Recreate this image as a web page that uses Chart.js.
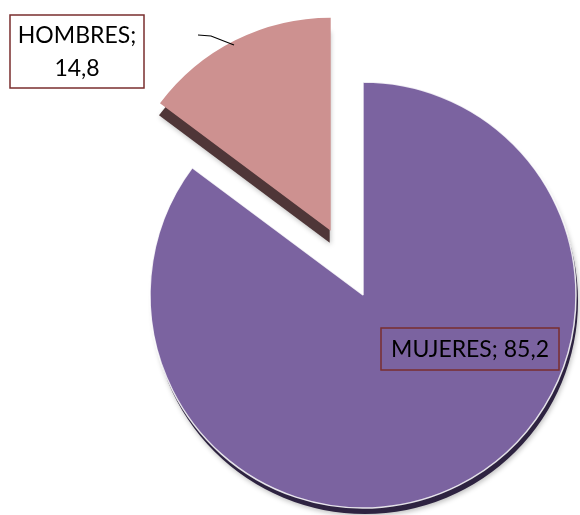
<!DOCTYPE html>
<html><head><meta charset="utf-8">
<script src="https://cdn.jsdelivr.net/npm/chart.js@4/dist/chart.umd.min.js"></script>
<style>html,body{margin:0;padding:0;background:#fff;}canvas{display:block;}</style>
</head><body>
<canvas id="c" width="580" height="515"></canvas>
<script>
const categories = ['MUJERES', 'HOMBRES'];
const values = [85.2, 14.8];
const valueLabels = ['85,2', '14,8'];

const fillColors = ['#7B63A0', '#CD9190'];
const sideColors = ['#2E2341', '#4F3638'];
const explode = [0, 72];

const explodePlugin = {
  id: 'explode',
  afterDatasetsUpdate(chart) {
    const meta = chart.getDatasetMeta(0);
    meta.data.forEach((arc, i) => {
      const d = explode[i] || 0;
      if (!d) return;
      const mid = (arc.startAngle + arc.endAngle) / 2;
      arc.x += Math.cos(mid) * d;
      arc.y += Math.sin(mid) * d;
    });
  }
};

const shadowPlugin = {
  id: 'shadow3d',
  beforeDatasetsDraw(chart) {
    const ctx = chart.ctx;
    const meta = chart.getDatasetMeta(0);
    const shifts = [[2, 6], [-1, 12]];
    meta.data.forEach((arc, i) => {
      const cx = arc.x + shifts[i][0];
      const cy = arc.y + shifts[i][1];
      ctx.save();
      // soft grey drop shadow
      ctx.shadowColor = 'rgba(0,0,0,0.25)';
      ctx.shadowBlur = 5;
      ctx.shadowOffsetX = 1;
      ctx.shadowOffsetY = 2;
      ctx.fillStyle = sideColors[i];
      ctx.beginPath();
      ctx.moveTo(cx, cy);
      ctx.arc(cx, cy, arc.outerRadius, arc.startAngle, arc.endAngle);
      ctx.closePath();
      ctx.fill();
      ctx.restore();
    });
  },
  afterDatasetsDraw(chart) {
    const ctx = chart.ctx;
    ctx.save();
    ctx.font = '23px Lato, "Open Sans", sans-serif';
    ctx.textAlign = 'center';
    ctx.textBaseline = 'middle';
    // HOMBRES label box
    ctx.fillStyle = '#ffffff';
    ctx.fillRect(10, 15, 134, 73);
    ctx.strokeStyle = '#7A2E2E';
    ctx.lineWidth = 1.5;
    ctx.strokeRect(10, 15, 134, 73);
    ctx.fillStyle = '#000';
    ctx.fillText(categories[1] + ';', 77, 36);
    ctx.fillText(valueLabels[1], 77, 69);
    // leader line
    ctx.strokeStyle = '#000';
    ctx.lineWidth = 1.2;
    ctx.beginPath();
    ctx.moveTo(198, 35);
    ctx.lineTo(211, 36);
    ctx.lineTo(234, 45);
    ctx.stroke();
    // MUJERES label box
    ctx.strokeStyle = '#7A2E2E';
    ctx.lineWidth = 1.5;
    ctx.strokeRect(381, 328, 178, 42);
    ctx.fillStyle = '#000';
    ctx.fillText(categories[0] + '; ' + valueLabels[0], 470, 350);
    ctx.restore();
  }
};

new Chart(document.getElementById('c'), {
  type: 'pie',
  data: {
    labels: categories,
    datasets: [{
      data: values,
      backgroundColor: fillColors,
      borderColor: ['rgba(255,255,255,0.85)', 'rgba(0,0,0,0)'],
      borderWidth: [1.5, 0],
      clip: false
    }]
  },
  options: {
    responsive: false,
    animation: false,
    radius: 213,
    layout: { padding: { left: 146, top: 75, right: 0, bottom: 0 } },
    plugins: { legend: { display: false }, tooltip: { enabled: false } }
  },
  plugins: [explodePlugin, shadowPlugin]
});
</script>
</body></html>
